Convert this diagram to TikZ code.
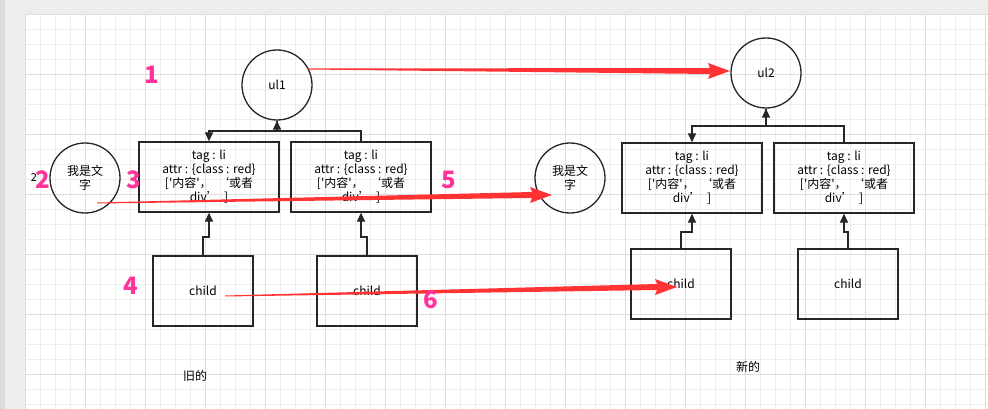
\documentclass[tikz,border=0pt]{standalone}
\usepackage{fontspec}
\setmainfont{Noto Sans CJK SC}[Ligatures=TeXOff]
\usetikzlibrary{calc,arrows.meta}
\definecolor{pk}{HTML}{FF3399}
\definecolor{rd}{HTML}{FF3333}
\newcommand\mylitext{tag : li\\attr : \{class : red\}\\{}['内容'，\ \ ‘或者\\div’\ \ ]}
\begin{document}
\begin{tikzpicture}[x=1pt,y=-1pt,
  circ/.style={draw=black!85,line width=1.3pt,circle,minimum size=70pt,inner sep=0pt,font=\fontsize{12}{14}\selectfont,align=center},
  box/.style={draw=black!85,line width=1.3pt,rectangle,minimum width=140pt,minimum height=70pt,inner sep=0pt,font=\fontsize{12}{14}\selectfont,align=center},
  cbox/.style={box,minimum width=100pt},
  con/.style={draw=black!85,line width=1.3pt,-{Triangle[length=9pt,width=8pt]}},
  num/.style={text=pk,font=\bfseries\fontsize{24}{24}\selectfont}]
\useasboundingbox (0,0) rectangle (988,409);
\fill[black!7] (0,0) rectangle (988,409);
\fill[black!14] (0,0) rectangle (5,409);
\fill[white] (25,14) rectangle (988,409);
\begin{scope}
\clip (25,14) rectangle (988,409);
\foreach \x in {25,40,...,988} \draw[black!7,line width=0.6pt] (\x,14) -- (\x,409);
\foreach \y in {14,29,...,409} \draw[black!7,line width=0.6pt] (25,\y) -- (988,\y);
\foreach \x in {25,85,...,988} \draw[black!13,line width=0.7pt] (\x,14) -- (\x,409);
\foreach \y in {14,74,...,409} \draw[black!13,line width=0.7pt] (25,\y) -- (988,\y);
\end{scope}

\node[circ] (ul1) at (277,85) {ul1};
\node[circ] (ul2) at (766,73) {ul2};
\node[circ] (t1) at (85,178) {我是文\\字};
\node[circ] (t2) at (570,178) {我是文\\字};
\node[box] (l1) at (209,177) {\mylitext};
\node[box] (l2) at (361,177) {\mylitext};
\node[box] (l3) at (692,178) {\mylitext};
\node[box] (l4) at (844,178) {\mylitext};
\node[cbox] (c1) at (203,291) {child};
\node[cbox] (c2) at (367,291) {child};
\node[cbox] (c3) at (681,284) {child};
\node[cbox] (c4) at (848,284) {child};

\draw[con] (ul1.south) |- (209,131) -- (l1.north);
\draw[con] (l2.north) |- (277,131) -- (ul1.south);
\draw[con] (c1.north) |- (209,237) -- (l1.south);
\draw[con] (c2.north) |- (361,237) -- (l2.south);
\draw[con] (ul2.south) |- (692,126) -- (l3.north);
\draw[con] (l4.north) |- (766,126) -- (ul2.south);
\draw[con] (c3.north) |- (692,232) -- (l3.south);
\draw[con] (c4.north) |- (844,232) -- (l4.south);

\coordinate (a1) at (308,69); \coordinate (b1) at (730,71);
\coordinate (a2) at (97,203); \coordinate (b2) at (552,195);
\coordinate (a3) at (225,296); \coordinate (b3) at (677,287);
\foreach \a/\b in {a1/b1,a2/b2,a3/b3}{
  \fill[rd] ($(\a)+(0,-0.5)$) -- ($(\b)+(-20,-3)$) -- ($(\b)+(-22,-8)$) -- (\b) -- ($(\b)+(-22,8)$) -- ($(\b)+(-20,3)$) -- ($(\a)+(0,0.5)$) -- cycle;
}

\node[num] (n1) at (152,75) {1};
\node[font=\fontsize{11}{11}\selectfont] (n2s) at (34,178) {2};
\node[num] (n2) at (43,180) {2};
\node[num] (n3) at (134,180) {3};
\node[num] (n4) at (131,286) {4};
\node[num] (n5) at (449,180) {5};
\node[num] (n6) at (431,300) {6};
\node[font=\fontsize{12}{14}\selectfont] (old) at (195,376) {旧的};
\node[font=\fontsize{12}{14}\selectfont] (new) at (748,367) {新的};
\end{tikzpicture}
\end{document}
